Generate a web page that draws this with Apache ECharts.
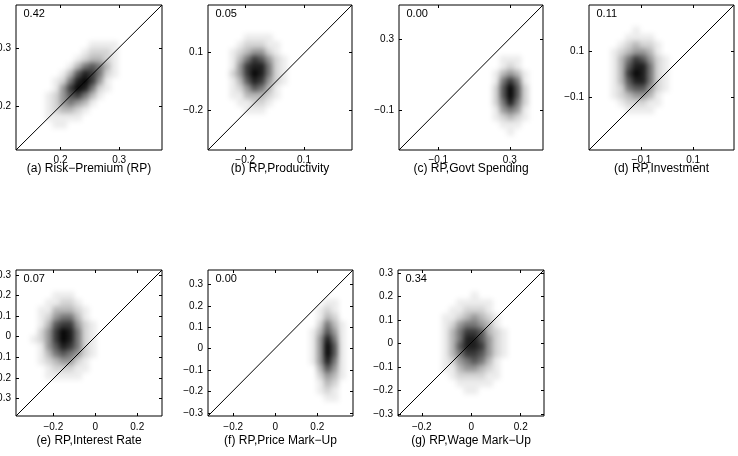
<!DOCTYPE html>
<html><head><meta charset="utf-8">
<script src="https://cdn.jsdelivr.net/npm/echarts@6/dist/echarts.min.js"></script>
<style>html,body{margin:0;padding:0;background:#fff}#c{width:738px;height:456px}</style>
</head><body><div id="c"></div>
<script>
// ---- data ----
const captions = ['(a) Risk\u2212Premium (RP)', '(b) RP,Productivity', '(c) RP,Govt Spending', '(d) RP,Investment',
                  '(e) RP,Interest Rate', '(f) RP,Price Mark\u2212Up', '(g) RP,Wage Mark\u2212Up'];
const cornerValues = ['0.42', '0.05', '0.00', '0.11', '0.07', '0.00', '0.34'];
const xRanges = [[0.124, 0.373], [-0.39, 0.345], [-0.32, 0.486], [-0.303, 0.258], [-0.378, 0.318], [-0.32, 0.37], [-0.296, 0.294]];
const yRanges = [[0.126, 0.374], [-0.405, 0.346], [-0.322, 0.494], [-0.331, 0.302], [-0.386, 0.324], [-0.314, 0.367], [-0.309, 0.314]];
const xTicks = [[0.2, 0.3], [-0.2, 0.1], [-0.1, 0.3], [-0.1, 0.1], [-0.2, 0, 0.2], [-0.2, 0, 0.2], [-0.2, 0, 0.2]];
const yTicks = [[0.2, 0.3], [-0.2, 0.1], [-0.1, 0.3], [-0.1, 0.1],
                [-0.3, -0.2, -0.1, 0, 0.1, 0.2, 0.3], [-0.3, -0.2, -0.1, 0, 0.1, 0.2, 0.3], [-0.3, -0.2, -0.1, 0, 0.1, 0.2, 0.3]];
// density levels (0-9), 20x20 cells, rows listed top to bottom
const densityA = [
'00000000000000000000','00000000000000000000','00000000000000000000','00000000000000000000',
'00000000000000000000','00000000001111000000','00000000012221000000','00000000123321000000',
'00000001356531000000','00000013687521000000','00000125897410000000','00000147985210000000',
'00001246753100000000','00001245431000000000','00001233210000000000','00001111100000000000',
'00000110000000000000','00000000000000000000','00000000000000000000','00000000000000000000'];
const densityB = [
'00000000000000000000','00000000000000000000','00000000000000000000','00000000000000000000',
'00000111100000000000','00001222110000000000','00012344210000000000','00013576421000000000',
'00014788521000000000','00024798521000000000','00013687421000000000','00012465310000000000',
'00011333210000000000','00001122100000000000','00000111000000000000','00000000000000000000',
'00000000000000000000','00000000000000000000','00000000000000000000','00000000000000000000'];
const densityC = [
'00000000000000000000','00000000000000000000','00000000000000000000','00000000000000000000',
'00000000000000000000','00000000000000000000','00000000000000000000','00000000000000111000',
'00000000000000121000','00000000000001343100','00000000000001575100','00000000000002696200',
'00000000000002696200','00000000000002585200','00000000000001454100','00000000000001232100',
'00000000000000111000','00000000000000010000','00000000000000000000','00000000000000000000'];
const densityD = [
'00000000000000000000','00000000000000000000','00000000000000000000','00000010000000000000',
'00000111100000000000','00001232210000000000','00012344310000000000','00013576421000000000',
'00013688521000000000','00013798521000000000','00013688521000000000','00012566421000000000',
'00012344310000000000','00001222110000000000','00000111100000000000','00000000000000000000',
'00000000000000000000','00000000000000000000','00000000000000000000','00000000000000000000'];
const densityE = [
'00000000000000000000','00000000000000000000','00000000000000000000','00000111000000000000',
'00001122100000000000','00011333210000000000','00012455310000000000','00013677421000000000',
'00024798521000000000','00124798521000000000','00014687521000000000','00013565421000000000',
'00012344210000000000','00001222110000000000','00001111100000000000','00000000000000000000',
'00000000000000000000','00000000000000000000','00000000000000000000','00000000000000000000'];
const densityF = [
'00000000000000000000','00000000000000000000','00000000000000000000','00000000000000000000',
'00000000000000001100','00000000000000012100','00000000000000013200','00000000000000025310',
'00000000000000136410','00000000000000148510','00000000000000149610','00000000000000149610',
'00000000000000148510','00000000000000036410','00000000000000024310','00000000000000013200',
'00000000000000012100','00000000000000001100','00000000000000000000','00000000000000000000'];
const densityG = [
'00000000000000000000','00000000000000000000','00000000000000000000','00000000001000000000',
'00000000111110000000','00000001122210000000','00000011234321000000','00000012455431000000',
'00000013577632100000','00000013588642100000','00000013688742100000','00000013577642100000',
'00000012456531000000','00000011344321000000','00000001222211000000','00000000111110000000',
'00000000011000000000','00000000000000000000','00000000000000000000','00000000000000000000'];
const densities = [densityA, densityB, densityC, densityD, densityE, densityF, densityG];

// ---- layout / style ----
const boxes = [[16, 5, 146, 145], [208, 5, 144, 145], [399, 5, 144, 145], [589, 5, 145, 145],
               [16, 270, 146, 146], [208, 270, 145, 146], [398, 270, 146, 146]];
const captionY = [168.5, 441];
const levelColors = ['#ffffff', '#ececec', '#d4d4d4', '#b8b8b8', '#989898', '#777777', '#575757', '#393939', '#1e1e1e', '#050505'];
const FONT = '"Liberation Sans", Arial, Helvetica, sans-serif';
const N = 20;
const cats = Array.from({length: N}, (_, i) => String(i));
const fmt = v => v === 0 ? '0' : (v < 0 ? '\u2212' : '') + Math.abs(v).toFixed(1);

const grid = [], xAxis = [], yAxis = [], series = [], graphic = [], heatIdx = [];
boxes.forEach((b, k) => {
  const [l, t, w, h] = b;
  const row = k < 4 ? 0 : 1;
  // heatmap grid (category axes, hidden) on the bottom layer
  grid.push({left: l, top: t, width: w, height: h, show: false, containLabel: false, outerBoundsMode: 'none', zlevel: 0});
  const gH = grid.length - 1;
  xAxis.push({type: 'category', gridIndex: gH, data: cats, show: false});
  const xH = xAxis.length - 1;
  yAxis.push({type: 'category', gridIndex: gH, data: cats, show: false});
  const yH = yAxis.length - 1;
  const cells = [];
  densities[k].forEach((r, i) => {
    for (let j = 0; j < N; j++) { const v = +r[j]; if (v > 0) cells.push([j, N - 1 - i, v]); }
  });
  series.push({type: 'heatmap', xAxisIndex: xH, yAxisIndex: yH, data: cells, silent: true, zlevel: 0, z: 1,
               itemStyle: {borderWidth: 0}, emphasis: {disabled: true}});
  heatIdx.push(series.length - 1);

  // value grid: frame, ticks, labels, diagonal on the upper layer
  grid.push({left: l, top: t, width: w, height: h, show: true, borderColor: '#000', borderWidth: 1, zlevel: 1,
             backgroundColor: 'transparent', containLabel: false, outerBoundsMode: 'none'});
  const gV = grid.length - 1;
  const xr = xRanges[k], yr = yRanges[k];
  const base = {type: 'value', gridIndex: gV, zlevel: 1, splitLine: {show: false}, axisLine: {show: false, onZero: false}};
  const tick = vals => ({show: true, inside: true, length: 3, customValues: vals, lineStyle: {color: '#000', width: 1}});
  xAxis.push(Object.assign({}, base, {position: 'bottom', min: xr[0], max: xr[1], axisTick: tick(xTicks[k]),
    axisLabel: {customValues: xTicks[k], formatter: fmt, margin: row ? 6 : 5, color: '#000', fontSize: 10, fontFamily: FONT}}));
  const xV = xAxis.length - 1;
  xAxis.push(Object.assign({}, base, {position: 'top', min: xr[0], max: xr[1], axisTick: tick(xTicks[k]), axisLabel: {show: false}}));
  yAxis.push(Object.assign({}, base, {position: 'left', min: yr[0], max: yr[1], axisTick: tick(yTicks[k]),
    axisLabel: {customValues: yTicks[k], formatter: fmt, margin: 5, color: '#000', fontSize: 10, fontFamily: FONT}}));
  const yV = yAxis.length - 1;
  yAxis.push(Object.assign({}, base, {position: 'right', min: yr[0], max: yr[1], axisTick: tick(yTicks[k]), axisLabel: {show: false}}));
  series.push({type: 'line', xAxisIndex: xV, yAxisIndex: yV, data: [[xr[0], yr[0]], [xr[1], yr[1]]], zlevel: 1,
               symbol: 'none', showSymbol: false, silent: true, z: 3, lineStyle: {color: '#000', width: 1}});

  graphic.push({type: 'text', x: l + 7.5, y: t + 8.5, silent: true, zlevel: 1,
    style: {text: cornerValues[k], font: '11px ' + FONT, fill: '#000', verticalAlign: 'middle', textVerticalAlign: 'middle'}});
  graphic.push({type: 'text', x: l + w / 2, y: captionY[row], silent: true, zlevel: 1,
    style: {text: captions[k], font: '12px ' + FONT, fill: '#000', align: 'center', textAlign: 'center',
            verticalAlign: 'middle', textVerticalAlign: 'middle'}});
});

const chart = echarts.init(document.getElementById('c'), null, {renderer: 'canvas'});
chart.setOption({
  backgroundColor: '#fff',
  animation: false,
  grid, xAxis, yAxis, series, graphic,
  visualMap: {type: 'continuous', show: false, min: 0, max: 9, seriesIndex: heatIdx, inRange: {color: levelColors}}
});
// soften the density cells (bottom layer only), like the smoothed histogram image
try {
  const layers = chart.getZr().painter.getLayers();
  if (layers[0] && layers[0].dom) layers[0].dom.style.filter = 'blur(2.5px)';
} catch (e) {}
</script></body></html>
